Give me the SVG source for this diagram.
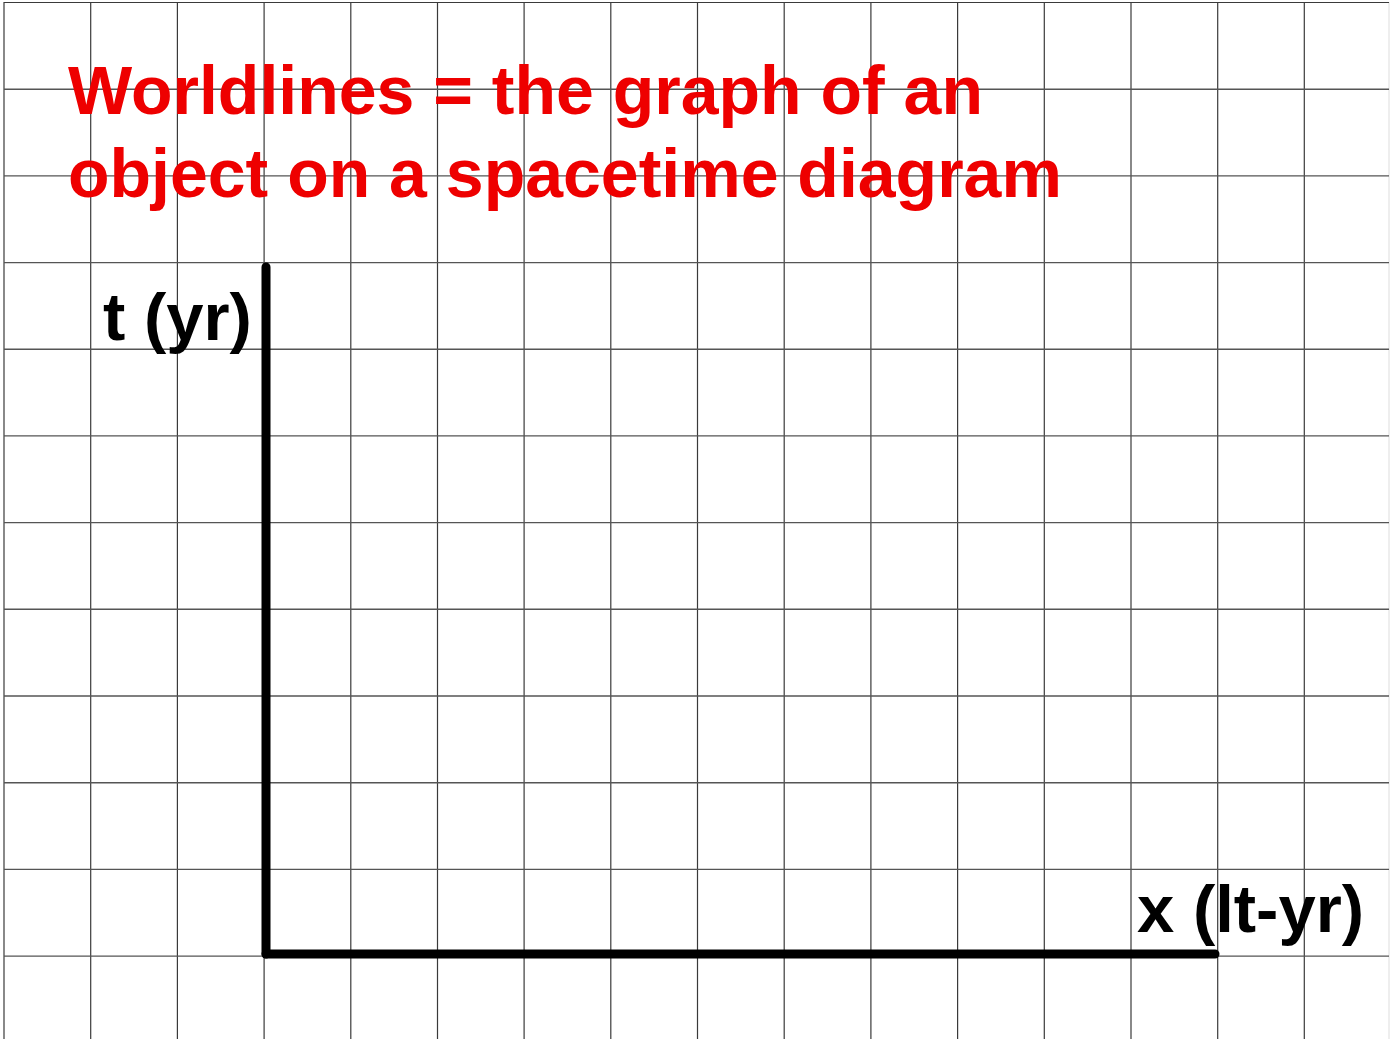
<svg xmlns="http://www.w3.org/2000/svg" width="1398" height="1039" viewBox="0 0 1398 1039">
<style>
.g{stroke:#3a3a3a;stroke-width:1.2;fill:none}
.gh{stroke:#555;stroke-width:1.4;fill:none}
.ax{stroke:#000;stroke-width:9;stroke-linecap:round;fill:none}
.title{font-family:"Liberation Sans",Arial,sans-serif;font-weight:bold;font-size:68px;fill:#ee0000}
.lbl{font-family:"Liberation Sans",Arial,sans-serif;font-weight:bold;font-size:67px;fill:#000}
</style>
<rect width="1398" height="1039" fill="#fff"/>
<g id="grid">
<line class="g" x1="4" y1="2" x2="4" y2="1039"/>
<line class="g" x1="90.7" y1="2" x2="90.7" y2="1039"/>
<line class="g" x1="177.4" y1="2" x2="177.4" y2="1039"/>
<line class="g" x1="264.1" y1="2" x2="264.1" y2="1039"/>
<line class="g" x1="350.8" y1="2" x2="350.8" y2="1039"/>
<line class="g" x1="437.5" y1="2" x2="437.5" y2="1039"/>
<line class="g" x1="524.1" y1="2" x2="524.1" y2="1039"/>
<line class="g" x1="610.8" y1="2" x2="610.8" y2="1039"/>
<line class="g" x1="697.5" y1="2" x2="697.5" y2="1039"/>
<line class="g" x1="784.2" y1="2" x2="784.2" y2="1039"/>
<line class="g" x1="870.9" y1="2" x2="870.9" y2="1039"/>
<line class="g" x1="957.6" y1="2" x2="957.6" y2="1039"/>
<line class="g" x1="1044.3" y1="2" x2="1044.3" y2="1039"/>
<line class="g" x1="1131" y1="2" x2="1131" y2="1039"/>
<line class="g" x1="1217.7" y1="2" x2="1217.7" y2="1039"/>
<line class="g" x1="1304.3" y1="2" x2="1304.3" y2="1039"/>
<line x1="1389" y1="2" x2="1389" y2="1039" stroke="#e8e8e8" stroke-width="1.5"/>
<line class="g" x1="4" y1="2.5" x2="1389" y2="2.5"/>
<line class="gh" x1="4" y1="89.2" x2="1389" y2="89.2"/>
<line class="gh" x1="4" y1="175.9" x2="1389" y2="175.9"/>
<line class="gh" x1="4" y1="262.6" x2="1389" y2="262.6"/>
<line class="gh" x1="4" y1="349.3" x2="1389" y2="349.3"/>
<line class="gh" x1="4" y1="435.9" x2="1389" y2="435.9"/>
<line class="gh" x1="4" y1="522.6" x2="1389" y2="522.6"/>
<line class="gh" x1="4" y1="609.3" x2="1389" y2="609.3"/>
<line class="gh" x1="4" y1="696" x2="1389" y2="696"/>
<line class="gh" x1="4" y1="782.7" x2="1389" y2="782.7"/>
<line class="gh" x1="4" y1="869.4" x2="1389" y2="869.4"/>
<line class="gh" x1="4" y1="956.1" x2="1389" y2="956.1"/>
</g>
<g id="title">
<text class="title" x="68" y="114">Worldlines = the graph of an</text>
<text class="title" x="68" y="197">object on a spacetime diagram</text>
</g>
<g id="connectors">
<line class="ax" x1="266" y1="267" x2="266" y2="954"/>
<line class="ax" x1="266" y1="954" x2="1215" y2="954"/>
</g>
<g id="t-axis-label">
<text class="lbl" x="103" y="340">t (yr)</text>
</g>
<g id="x-axis-label">
<text class="lbl" x="1137" y="932">x (lt-yr)</text>
</g>
</svg>
